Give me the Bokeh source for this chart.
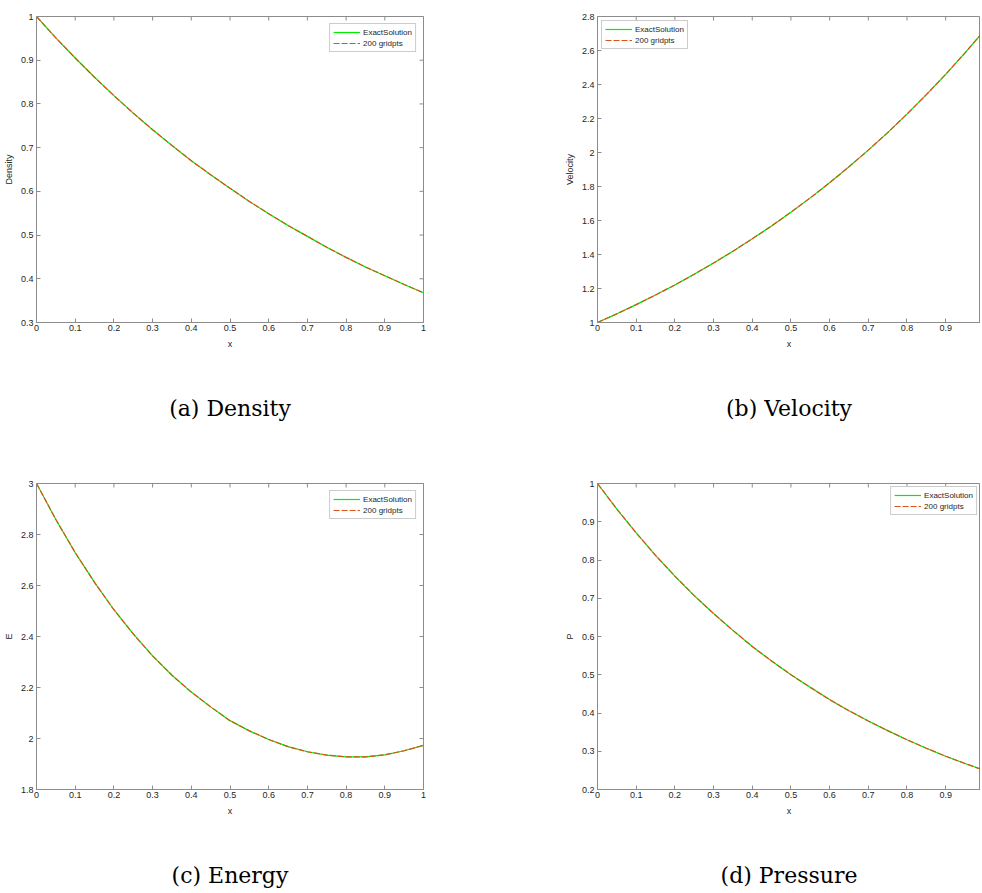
import math
from bokeh.plotting import figure
from bokeh.layouts import row, column
from bokeh.models import (Range1d, FixedTicker, CustomJSTickFormatter,
                          Title, Legend, LegendItem)
from bokeh.embed import file_html
from bokeh.resources import INLINE

# ---------------- data ----------------
x_vals = [0.0, 0.05, 0.1, 0.15, 0.2, 0.25, 0.3, 0.35, 0.4, 0.45, 0.5,
          0.55, 0.6, 0.65, 0.7, 0.75, 0.8, 0.85, 0.9, 0.95, 1.0]
density = [1.000, 0.951, 0.905, 0.861, 0.819, 0.779, 0.741, 0.705, 0.670, 0.638, 0.607,
           0.577, 0.549, 0.522, 0.497, 0.472, 0.449, 0.427, 0.407, 0.387, 0.368]
velocity = [1.000, 1.051, 1.105, 1.162, 1.221, 1.284, 1.350, 1.419, 1.492, 1.568, 1.649,
            1.733, 1.822, 1.916, 2.014, 2.117, 2.226, 2.340, 2.460, 2.586, 2.718]
energy = [3.000, 2.859, 2.729, 2.612, 2.505, 2.410, 2.324, 2.248, 2.182, 2.124, 2.070,
          2.030, 1.996, 1.968, 1.948, 1.935, 1.928, 1.928, 1.936, 1.952, 1.973]
pressure = [1.000, 0.933, 0.871, 0.812, 0.758, 0.707, 0.660, 0.616, 0.574, 0.536, 0.500,
            0.467, 0.435, 0.406, 0.379, 0.354, 0.330, 0.308, 0.287, 0.268, 0.250]

x_ticks = [0.0, 0.1, 0.2, 0.3, 0.4, 0.5, 0.6, 0.7, 0.8, 0.9, 1.0]
density_ticks = [0.3, 0.4, 0.5, 0.6, 0.7, 0.8, 0.9, 1.0]
velocity_ticks = [1.0, 1.2, 1.4, 1.6, 1.8, 2.0, 2.2, 2.4, 2.6, 2.8]
energy_ticks = [1.8, 2.0, 2.2, 2.4, 2.6, 2.8, 3.0]
pressure_ticks = [0.2, 0.3, 0.4, 0.5, 0.6, 0.7, 0.8, 0.9, 1.0]

series_names = ["ExactSolution", "200 gridpts"]
captions = ["(a) Density", "(b) Velocity", "(c) Energy", "(d) Pressure"]
y_labels = ["Density", "Velocity", "E", "P"]

AX = "#8c8c8c"
TXT = "#262626"
SANS = "Liberation Sans"
SERIF = "DejaVu Serif"
fmt_code = "return String(Math.round(tick*1000)/1000);"


def style_axis(ax):
    ax.axis_line_color = AX
    ax.major_tick_line_color = AX
    ax.major_tick_in = 4
    ax.major_tick_out = 0
    ax.minor_tick_line_color = None
    ax.major_label_text_font = SANS
    ax.major_label_text_font_size = "9px"
    ax.major_label_text_color = TXT
    ax.major_label_standoff = 3
    ax.axis_label_text_font = SANS
    ax.axis_label_text_font_size = "9px"
    ax.axis_label_text_font_style = "normal"
    ax.axis_label_text_color = TXT
    ax.axis_label_standoff = 4


def panel(y, yticks, yrange, xend, ylabel, caption, fw,
          bl, br, bt, bb, legend_loc, legend_margin, right_ticks):
    p = figure(frame_width=fw, frame_height=306, output_backend="svg",
               toolbar_location=None,
               x_range=Range1d(0, xend), y_range=Range1d(*yrange),
               min_border_left=bl, min_border_right=br, min_border_top=bt,
               min_border_bottom=bb)
    p.outline_line_color = AX
    p.xgrid.visible = False
    p.ygrid.visible = False
    p.xaxis.ticker = FixedTicker(ticks=x_ticks)
    p.yaxis.ticker = FixedTicker(ticks=yticks)
    p.xaxis.formatter = CustomJSTickFormatter(code=fmt_code)
    p.yaxis.formatter = CustomJSTickFormatter(code=fmt_code)
    p.xaxis.axis_label = "x"
    p.yaxis.axis_label = ylabel
    style_axis(p.xaxis[0])
    style_axis(p.yaxis[0])
    p.xaxis.major_label_standoff = 2
    p.xaxis.axis_label_standoff = 5

    # inward tick marks on the top (and right) edges of the box
    p.scatter(x_ticks, [yrange[1]] * len(x_ticks), marker="dash", angle=math.pi / 2,
              size=8, line_color=AX, line_width=1)
    if right_ticks:
        p.scatter([xend] * len(yticks), yticks, marker="dash", size=8,
                  line_color=AX, line_width=1)

    r1 = p.line(x_vals, y, line_color="#00ee00", line_width=1.2)
    r2 = p.line(x_vals, y, line_color="#D95319", line_width=1.2, line_dash="6 2")

    leg = Legend(items=[LegendItem(label=series_names[0], renderers=[r1]),
                        LegendItem(label=series_names[1], renderers=[r2])],
                 location=legend_loc, margin=legend_margin,
                 label_text_font=SANS, label_text_font_size="8px",
                 label_text_color=TXT, label_height=10, glyph_height=10,
                 glyph_width=27, label_standoff=3, spacing=1, padding=3,
                 border_line_color="#999999", background_fill_alpha=1)
    p.add_layout(leg)

    t = Title(text=caption, align="center", text_font=SERIF, text_font_size="22px",
              text_font_style="normal", text_color="#000000", standoff=84)
    p.add_layout(t, "below")
    return p


pa = panel(density, density_ticks, (0.3, 1.0), 1.0, y_labels[0], captions[0], 387,
           30, 103, 16, 150, "top_right", 7, True)
pb = panel(velocity, velocity_ticks, (1.0, 2.8), 0.99, y_labels[1], captions[1], 383,
           71, 0, 16, 150, "top_left", 4, False)
pc = panel(energy, energy_ticks, (1.8, 3.0), 1.0, y_labels[2], captions[2], 387,
           30, 103, 11, 110, "top_right", 7, True)
pd = panel(pressure, pressure_ticks, (0.2, 1.0), 0.99, y_labels[3], captions[3], 383,
           71, 0, 11, 110, "top_right", 3, False)

layout = column(row(pa, pb), row(pc, pd))
open("out.html", "w").write(file_html(layout, INLINE))
